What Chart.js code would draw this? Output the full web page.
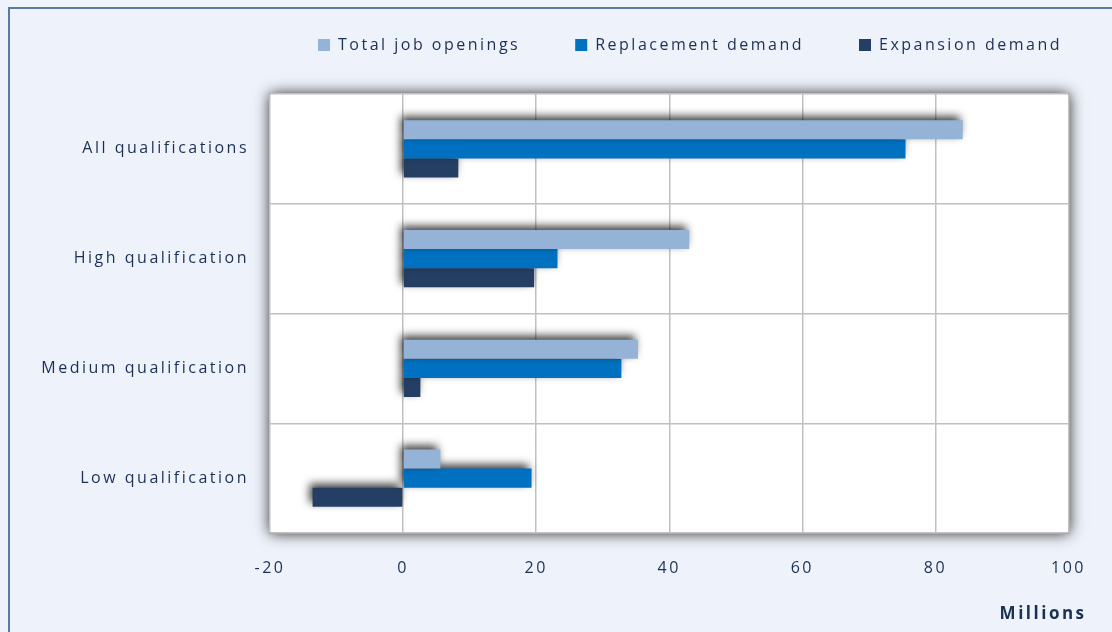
<!DOCTYPE html>
<html>
<head>
<meta charset="utf-8">
<script src="https://cdn.jsdelivr.net/npm/chart.js@4.4.0/dist/chart.umd.min.js"></script>
<style>
	html, body { margin: 0; padding: 0; background: #eef2fa; overflow: hidden; }
</style>
</head>
<body>
<canvas id="jobsChart" width="1112" height="632"></canvas>
<script>
const categories = ['All qualifications', 'High qualification', 'Medium qualification', 'Low qualification'];
const totalOpenings = [84.1, 43.0, 35.3, 5.6];
const replacementDemand = [75.5, 23.2, 32.8, 19.3];
const expansionDemand = [8.3, 19.7, 2.6, -13.6];
const xTicks = [-20, 0, 20, 40, 60, 80, 100];

const textColor = '#1b3154';
const gridColor = '#c0c0c0';
const spacing = '2.5px';

// page background, outer frame and the shadowed white plot area
const frame = {
	id: 'frame',
	beforeLayout(chart) {
		chart.ctx.letterSpacing = spacing;
	},
	beforeDraw(chart) {
		const ctx = chart.ctx;
		const a = chart.chartArea;
		ctx.letterSpacing = spacing;
		ctx.save();
		ctx.fillStyle = '#eef2fa';
		ctx.fillRect(0, 0, chart.width, chart.height);
		ctx.strokeStyle = '#5b7ba6';
		ctx.lineWidth = 2;
		ctx.strokeRect(9, 8, chart.width + 20, chart.height + 20);
		ctx.shadowColor = 'rgba(30,30,30,1)';
		ctx.shadowBlur = 14;
		ctx.fillStyle = '#ffffff';
		ctx.fillRect(a.left, a.top, a.right - a.left, a.bottom - a.top);
		ctx.restore();
		ctx.save();
		ctx.strokeStyle = '#9a9a9a';
		ctx.lineWidth = 1;
		ctx.strokeRect(a.left - 0.5, a.top - 0.5, a.right - a.left + 1, a.bottom - a.top + 1);
		ctx.restore();
	}
};

// soft shadow behind the bars
const barShadow = {
	id: 'barShadow',
	beforeDatasetsDraw(chart) {
		const ctx = chart.ctx;
		ctx.save();
		ctx.shadowColor = 'rgba(0,0,0,0.75)';
		ctx.shadowBlur = 9;
		ctx.shadowOffsetX = -3;
		ctx.shadowOffsetY = -4;
	},
	afterDatasetsDraw(chart) {
		chart.ctx.restore();
	}
};

// legend takes no layout space, it sits in the top band; axis title nudged right
const legendPlacer = {
	id: 'legendPlacer',
	beforeLayout(chart) {
		const legend = chart.legend;
		if (legend && !legend._wrapped) {
			const fit = legend.fit;
			legend.fit = function () {
				fit.call(this);
				this.height = 0;
			};
			legend._wrapped = true;
		}
	},
	afterLayout(chart) {
		const legend = chart.legend;
		const pad = legend.options.labels.padding;
		legend.left = 318 - pad;
		legend.right = chart.width + 200;
		legend.top = 37 - pad;
		chart.scales.x.right += 18;
	}
};

const chart = new Chart(document.getElementById('jobsChart'), {
	type: 'bar',
	data: {
		labels: categories,
		datasets: [
			{label: 'Total job openings', data: totalOpenings, backgroundColor: '#95b3d7'},
			{label: 'Replacement demand', data: replacementDemand, backgroundColor: '#0070c0'},
			{label: 'Expansion demand', data: expansionDemand, backgroundColor: '#243f63'}
		]
	},
	options: {
		indexAxis: 'y',
		responsive: false,
		animation: false,
		devicePixelRatio: 1,
		layout: {padding: {top: 94, right: 43, bottom: 0, left: 0}},
		datasets: {bar: {categoryPercentage: 0.52, barPercentage: 1}},
		scales: {
			x: {
				min: -20,
				max: 100,
				afterBuildTicks(scale) {
					scale.ticks = xTicks.map(v => ({value: v}));
				},
				afterFit(scale) {
					scale.height = 99;
				},
				ticks: {padding: 26, color: textColor, font: {family: 'Open Sans', size: 16}},
				grid: {color: gridColor, lineWidth: 1.5, drawTicks: false},
				border: {display: false},
				title: {
					display: true,
					text: 'Millions',
					align: 'end',
					color: textColor,
					font: {family: 'Open Sans', size: 17, weight: 'bold'},
					padding: {top: 0, bottom: 8}
				}
			},
			y: {
				afterFit(scale) {
					scale.width = 270;
				},
				ticks: {padding: 21, color: textColor, font: {family: 'Open Sans', size: 16}},
				grid: {color: gridColor, lineWidth: 1.5, drawTicks: false},
				border: {display: false}
			}
		},
		plugins: {
			legend: {
				position: 'top',
				align: 'start',
				labels: {
					boxWidth: 12,
					boxHeight: 12,
					padding: 55,
					color: textColor,
					font: {family: 'Open Sans', size: 16}
				}
			},
			tooltip: {enabled: false}
		}
	},
	plugins: [frame, legendPlacer, barShadow]
});
</script>
</body>
</html>
